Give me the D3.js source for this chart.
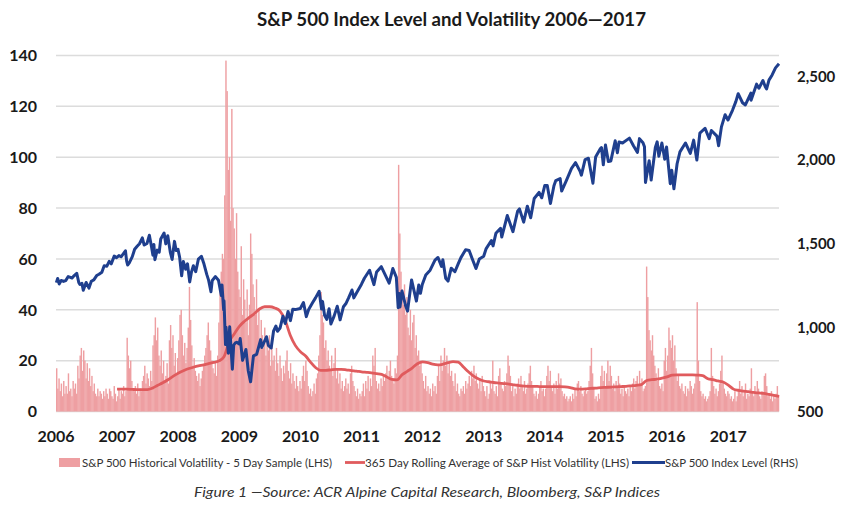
<!DOCTYPE html>
<html><head><meta charset="utf-8">
<script src="https://cdn.jsdelivr.net/npm/d3@7/dist/d3.min.js"></script>
<style>body{margin:0;background:#fff}svg{display:block}text{font-family:Lato,"Open Sans",sans-serif}</style>
</head><body><svg id="c" width="851" height="525"></svg>
<script>
// ---------- DATA ----------
const leftTicks = [0,20,40,60,80,100,120,140];
const rightTicks = [500,1000,1500,2000,2500];
const yearTicks = [2006,2007,2008,2009,2010,2011,2012,2013,2014,2015,2016,2017];

// 5-day historical volatility (approx. weekly samples)
const vol2006 = [17,9,13,8,11,6,12,7,10,7,15,8,9,6,12,9,11,7,18,13,22,25,16,24,20,13,19,12,17,10,14,8,11,7,6,9,6,8,7,5,8,6,9,7,5,9,8,6,5,10,7,4];
const vol2007 = [6,9,5,8,7,10,6,8,29,22,17,20,12,9,8,10,7,11,6,9,8,12,14,18,11,15,13,10,16,12,26,30,37,28,33,22,18,24,15,20,12,14,19,11,28,34,25,30,18,23,15,21];
const vol2008 = [28,38,40,30,22,27,19,25,33,49,36,26,18,21,16,14,12,15,10,13,16,18,22,25,30,35,28,24,20,17,15,19,14,22,35,48,55,62,60,85,138,126,95,100,75,119,80,72,60,78,55,48];
const vol2009 = [45,65,38,52,44,35,48,30,42,70,62,50,45,38,52,34,40,28,36,30,25,33,22,28,24,30,18,26,20,22,16,25,19,14,22,17,12,18,15,20,24,16,13,19,11,15,12,9,14,10,8,12];
const vol2010 = [9,14,18,12,20,16,10,7,9,6,8,11,7,13,15,22,30,47,38,35,25,28,20,24,18,16,22,14,19,25,13,17,11,15,9,12,8,10,13,9,11,7,15,18,12,10,8,6,9,5,7,6];
const vol2011 = [8,11,6,12,9,14,8,13,10,22,18,25,12,9,11,8,13,10,14,12,15,18,13,16,20,14,12,11,17,15,22,97,70,55,48,42,50,38,45,33,30,40,28,35,38,25,30,22,24,18,20,15];
const vol2012 = [12,9,14,8,10,7,9,6,11,8,10,7,14,18,12,22,16,20,25,18,22,15,19,14,16,12,10,15,8,11,7,6,9,8,10,7,12,9,11,14,10,16,13,18,12,15,11,9,13,8,14,10];
const vol2013 = [8,6,10,5,7,12,9,20,8,7,10,6,14,17,11,9,8,12,10,15,22,18,14,8,10,6,9,7,11,13,9,14,10,8,12,7,9,11,15,18,12,10,7,6,8,5,7,10,12,8,9,6];
const vol2014 = [9,14,18,12,16,10,8,11,7,12,9,15,11,13,8,6,7,5,6,4,5,6,4,7,5,9,6,11,12,8,10,7,6,8,9,7,8,12,18,25,15,9,5,6,4,7,5,14,18,12,16,10];
const vol2015 = [15,20,12,18,14,9,11,8,12,10,14,11,7,9,6,10,8,7,9,6,10,8,11,13,9,12,14,10,16,11,13,8,9,10,57,45,32,28,24,30,22,18,15,12,17,10,9,11,8,20,25,16];
const vol2016 = [22,33,28,25,30,20,26,17,12,14,10,9,11,8,7,10,6,9,8,12,10,7,9,11,14,43,20,12,8,6,7,5,6,4,5,6,8,25,14,10,7,9,6,8,11,16,22,12,9,7,6,8];
const vol2017 = [7,5,6,4,5,8,4,6,9,12,7,10,6,8,11,5,7,6,9,17,8,6,10,7,12,9,6,5,8,7,14,15,10,6,7,5,8,4,6,5,7,10,6];

// 365 day rolling average, monthly from Jan 2007
const rollStart = [2007, 0];
const rollAvg = [
 8.8,8.8,8.8,8.7,8.6,8.6,8.6,9.2,10.3,11.3,12.5,13.8,
 15.0,16.0,16.8,17.4,17.9,18.3,18.8,19.3,19.9,21.5,27.5,30.5,
 33.5,35.5,37.0,38.5,40.3,41.2,41.2,40.7,39.5,36.0,30.0,26.0,
 23.5,21.8,19.5,17.3,16.2,16.2,16.4,16.6,16.6,16.4,16.1,15.9,
 15.6,15.4,15.2,14.9,14.6,13.6,12.6,12.4,14.5,15.8,17.2,18.8,
 19.5,19.2,18.6,18.3,18.6,19.2,19.6,19.4,17.5,15.6,13.9,12.8,
 12.0,11.7,11.4,11.2,11.0,10.8,10.5,10.2,10.0,9.9,9.9,9.8,
 9.8,9.8,9.8,9.8,9.7,9.4,8.9,8.8,8.9,9.1,9.2,9.4,
 9.5,9.6,9.7,9.8,9.9,10.1,10.3,10.6,12.2,12.5,12.7,13.1,
 13.6,14.3,14.4,14.4,14.4,14.4,14.3,14.1,12.9,12.5,12.0,11.6,
 10.4,8.8,8.3,8.0,7.8,7.5,7.3,7.1,6.7,6.3,5.9];

// S&P 500 index level
const spx = [
["2006-01-03",1269],["2006-01-11",1294],["2006-01-20",1261],["2006-02-01",1282],["2006-02-15",1276],["2006-02-28",1281],["2006-03-15",1305],["2006-03-24",1302],["2006-04-07",1296],["2006-04-20",1311],["2006-05-05",1325],["2006-05-17",1270],["2006-05-24",1258],["2006-06-05",1265],["2006-06-13",1223],["2006-06-30",1270],["2006-07-17",1236],["2006-07-31",1277],["2006-08-15",1285],["2006-09-01",1311],["2006-09-15",1319],["2006-10-02",1331],["2006-10-16",1369],["2006-11-01",1367],["2006-11-15",1396],["2006-11-27",1381],["2006-12-15",1427],["2006-12-29",1418],
["2007-01-12",1430],["2007-01-25",1423],["2007-02-20",1459],["2007-02-27",1399],["2007-03-05",1374],["2007-03-15",1387],["2007-04-02",1424],["2007-04-16",1468],["2007-05-01",1486],["2007-05-15",1501],["2007-06-01",1536],["2007-06-12",1493],["2007-06-29",1503],["2007-07-13",1552],["2007-07-26",1482],["2007-08-03",1433],["2007-08-09",1497],["2007-08-15",1406],["2007-08-29",1463],["2007-09-10",1451],["2007-09-19",1529],["2007-10-09",1565],["2007-10-19",1500],["2007-10-31",1549],["2007-11-15",1451],["2007-11-26",1407],["2007-12-10",1515],["2007-12-20",1460],["2007-12-31",1468],
["2008-01-10",1420],["2008-01-22",1310],["2008-02-01",1395],["2008-02-15",1349],["2008-02-26",1381],["2008-03-10",1273],["2008-03-20",1330],["2008-04-01",1370],["2008-04-15",1334],["2008-05-01",1409],["2008-05-19",1426],["2008-06-02",1385],["2008-06-20",1318],["2008-07-01",1284],["2008-07-15",1214],["2008-07-23",1282],["2008-08-11",1305],["2008-08-29",1283],["2008-09-15",1192],["2008-09-19",1255],["2008-09-29",1106],["2008-10-01",1161],["2008-10-10",899],["2008-10-13",1003],["2008-10-27",848],["2008-11-04",1005],["2008-11-20",752],["2008-11-28",896],["2008-12-08",909],["2008-12-16",913],["2008-12-31",903],
["2009-01-06",935],["2009-01-20",805],["2009-02-09",870],["2009-02-23",743],["2009-03-09",677],["2009-03-26",832],["2009-04-14",841],["2009-05-08",929],["2009-05-15",882],["2009-06-12",946],["2009-06-23",895],["2009-07-10",879],["2009-07-24",979],["2009-08-07",1010],["2009-08-17",979],["2009-09-01",998],["2009-09-18",1068],["2009-10-02",1025],["2009-10-19",1097],["2009-11-02",1042],["2009-11-16",1110],["2009-12-01",1108],["2009-12-31",1115],
["2010-01-19",1150],["2010-02-05",1066],["2010-02-19",1109],["2010-03-15",1150],["2010-04-01",1178],["2010-04-23",1217],["2010-05-07",1111],["2010-05-13",1157],["2010-05-25",1074],["2010-06-07",1050],["2010-06-21",1113],["2010-07-02",1022],["2010-07-21",1069],["2010-08-09",1128],["2010-08-26",1047],["2010-09-15",1125],["2010-10-01",1146],["2010-10-15",1176],["2010-11-05",1225],["2010-11-16",1178],["2010-12-01",1206],["2010-12-31",1258],
["2011-01-18",1295],["2011-02-18",1343],["2011-03-16",1257],["2011-04-01",1332],["2011-04-29",1364],["2011-05-16",1329],["2011-06-15",1266],["2011-07-07",1353],["2011-07-28",1300],["2011-08-08",1119],["2011-08-15",1204],["2011-08-19",1124],["2011-08-31",1219],["2011-09-22",1129],["2011-10-03",1099],["2011-10-27",1285],["2011-11-25",1159],["2011-12-09",1255],["2011-12-19",1205],["2011-12-30",1258],
["2012-01-20",1315],["2012-02-15",1343],["2012-03-15",1403],["2012-04-02",1419],["2012-04-23",1366],["2012-05-01",1405],["2012-05-18",1295],["2012-06-01",1278],["2012-06-20",1355],["2012-07-12",1334],["2012-07-31",1379],["2012-08-17",1418],["2012-09-14",1465],["2012-10-05",1461],["2012-10-23",1413],["2012-11-15",1353],["2012-12-05",1410],["2012-12-31",1426],
["2013-01-15",1472],["2013-02-15",1520],["2013-02-25",1488],["2013-03-14",1563],["2013-04-11",1593],["2013-04-18",1541],["2013-05-21",1669],["2013-06-24",1573],["2013-07-22",1695],["2013-08-02",1709],["2013-08-27",1630],["2013-09-18",1725],["2013-10-08",1656],["2013-10-29",1771],["2013-11-27",1807],["2013-12-13",1775],["2013-12-31",1848],
["2014-01-15",1848],["2014-02-03",1741],["2014-02-24",1847],["2014-03-07",1878],["2014-04-02",1890],["2014-04-11",1815],["2014-05-09",1878],["2014-06-09",1951],["2014-07-03",1985],["2014-07-31",1931],["2014-08-07",1910],["2014-08-29",2003],["2014-09-18",2011],["2014-10-15",1862],["2014-10-31",2018],["2014-11-28",2067],["2014-12-05",2075],["2014-12-16",1972],["2014-12-29",2090],
["2015-01-15",1992],["2015-01-30",1995],["2015-02-25",2115],["2015-03-10",2044],["2015-03-20",2108],["2015-04-10",2102],["2015-05-21",2131],["2015-06-15",2084],["2015-07-08",2046],["2015-07-20",2128],["2015-08-10",2104],["2015-08-19",2079],["2015-08-25",1867],["2015-09-16",1996],["2015-09-28",1881],["2015-10-23",2075],["2015-11-03",2109],["2015-11-13",2023],["2015-12-01",2102],["2015-12-18",2005],["2015-12-29",2078],
["2016-01-20",1859],["2016-01-29",1940],["2016-02-11",1829],["2016-03-01",1978],["2016-03-18",2049],["2016-04-20",2102],["2016-05-19",2040],["2016-06-08",2119],["2016-06-27",2000],["2016-07-15",2161],["2016-08-15",2190],["2016-09-09",2128],["2016-09-22",2177],["2016-10-25",2143],["2016-11-04",2085],["2016-11-21",2198],["2016-12-13",2271],["2016-12-30",2239],
["2017-01-26",2297],["2017-02-15",2349],["2017-03-01",2396],["2017-03-27",2342],["2017-04-13",2329],["2017-05-16",2400],["2017-05-17",2357],["2017-06-19",2453],["2017-07-03",2429],["2017-07-27",2475],["2017-08-10",2438],["2017-08-18",2425],["2017-09-01",2477],["2017-09-20",2508],["2017-10-10",2550],["2017-10-31",2575]];

const titleText = "S&P 500 Index Level and Volatility 2006\u20142017";
const legendLabels = ["S&P 500 Historical Volatility - 5 Day Sample (LHS)","365 Day Rolling Average of S&P Hist Volatility (LHS)","S&P 500 Index Level (RHS)"];
const captionText = "Figure 1 \u2014Source: ACR Alpine Capital Research, Bloomberg, S&P Indices";

// ---------- CHART ----------
const svg = d3.select("#c");
const parse = d3.timeParse("%Y-%m-%d");
const dataEnd = new Date(2017,9,31);
const x = d3.scaleTime().domain([new Date(2006,0,1), dataEnd]).range([56,779]);
const yL = d3.scaleLinear().domain([0,140]).range([411.5,55.5]);
const yR = d3.scaleLinear().domain([500,2624]).range([411.5,55.5]);

const COL_BAR = "#ee9fa2", COL_RED = "#e05b5d", COL_BLUE = "#1f3f8e";

// gridlines
svg.append("g").selectAll("line").data(leftTicks).join("line")
  .attr("x1",56).attr("x2",779)
  .attr("y1",d=>yL(d)).attr("y2",d=>yL(d))
  .attr("stroke","#dcdcdc").attr("stroke-width",1.5);

// bars
const volByYear = [vol2006,vol2007,vol2008,vol2009,vol2010,vol2011,vol2012,vol2013,vol2014,vol2015,vol2016,vol2017];
const bars = [];
volByYear.forEach((arr,k)=>{
  const yr = 2006+k;
  const s = new Date(yr,0,1).getTime();
  const e = (yr===2017? dataEnd : new Date(yr+1,0,1)).getTime();
  arr.forEach((v,i)=>{
    bars.push({t0:new Date(s+(e-s)*i/arr.length), t1:new Date(s+(e-s)*(i+1)/arr.length), v});
  });
});
svg.append("g").selectAll("rect").data(bars).join("rect")
  .attr("x",d=>x(d.t0))
  .attr("width",d=>Math.max(0.5,x(d.t1)-x(d.t0)+0.25))
  .attr("y",d=>yL(d.v))
  .attr("height",d=>yL(0)-yL(d.v))
  .attr("fill",COL_BAR);

// rolling average line
const rollData = rollAvg.map((v,i)=>({t:new Date(rollStart[0], rollStart[1]+i, 1), v}));
svg.append("path").datum(rollData)
  .attr("fill","none").attr("stroke",COL_RED).attr("stroke-width",2.8)
  .attr("stroke-linejoin","round")
  .attr("d", d3.line().x(d=>x(d.t)).y(d=>yL(d.v)).curve(d3.curveMonotoneX));

// index line
svg.append("path").datum(spx)
  .attr("fill","none").attr("stroke",COL_BLUE).attr("stroke-width",3)
  .attr("stroke-linejoin","round")
  .attr("d", d3.line().x(d=>x(parse(d[0]))).y(d=>yR(d[1])));

// left axis labels
svg.append("g").selectAll("text").data(leftTicks).join("text")
  .attr("x",37).attr("y",d=>yL(d)).attr("dy","0.36em")
  .attr("text-anchor","end").attr("font-size",16).attr("font-weight","bold").attr("fill","#1a1a1a")
  .text(d=>d);

// right axis labels
svg.append("g").selectAll("text").data(rightTicks).join("text")
  .attr("x",797).attr("y",d=>yR(d)).attr("dy","0.36em")
  .attr("text-anchor","start").attr("font-size",15).attr("font-weight","bold").attr("fill","#1a1a1a")
  .text(d=>d3.format(",")(d));

// x labels
svg.append("g").selectAll("text").data(yearTicks).join("text")
  .attr("x",d=>x(new Date(d,0,1))).attr("y",442)
  .attr("text-anchor","middle").attr("font-size",16).attr("font-weight","bold").attr("fill","#1a1a1a")
  .text(d=>d);

// title
svg.append("text").attr("x",257).attr("y",26).attr("font-size",18).attr("font-weight","bold")
  .attr("fill","#1a1a1a").attr("textLength",389).attr("lengthAdjust","spacingAndGlyphs").text(titleText);

// legend
const lg = svg.append("g");
lg.append("rect").attr("x",59).attr("y",458).attr("width",21).attr("height",9).attr("fill",COL_BAR);
lg.append("text").attr("x",82).attr("y",466.5).attr("font-size",11.5).attr("fill","#333")
  .attr("textLength",250).attr("lengthAdjust","spacingAndGlyphs").text(legendLabels[0]);
lg.append("line").attr("x1",345).attr("x2",365).attr("y1",462.5).attr("y2",462.5).attr("stroke",COL_RED).attr("stroke-width",2.8);
lg.append("text").attr("x",365).attr("y",466.5).attr("font-size",11.5).attr("fill","#333")
  .attr("textLength",264).attr("lengthAdjust","spacingAndGlyphs").text(legendLabels[1]);
lg.append("line").attr("x1",632).attr("x2",665).attr("y1",462.5).attr("y2",462.5).attr("stroke",COL_BLUE).attr("stroke-width",2.8);
lg.append("text").attr("x",665).attr("y",466.5).attr("font-size",11.5).attr("fill","#333")
  .attr("textLength",133).attr("lengthAdjust","spacingAndGlyphs").text(legendLabels[2]);

// caption
svg.append("text").attr("x",194).attr("y",497).attr("font-size",14).attr("font-style","italic")
  .attr("fill","#333").attr("textLength",466).attr("lengthAdjust","spacingAndGlyphs").text(captionText);
</script></body></html>
